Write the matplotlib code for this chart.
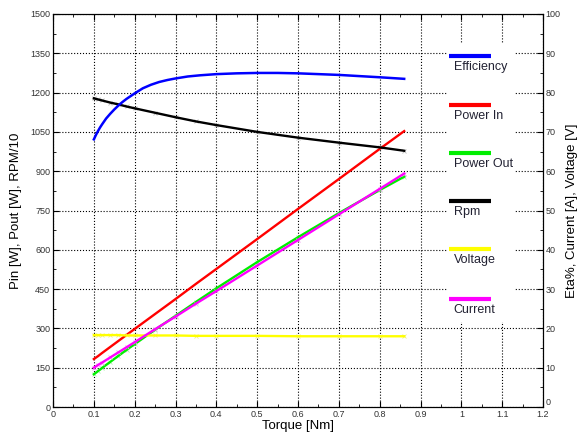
import matplotlib
matplotlib.use("Agg")
import matplotlib.pyplot as plt
from matplotlib.ticker import MultipleLocator
from matplotlib.patches import Rectangle

plt.rcParams['font.family'] = ['Liberation Sans', 'DejaVu Sans']

# data
torque = [0.10, 0.11, 0.12, 0.14, 0.16, 0.18, 0.20, 0.25, 0.30, 0.35,
          0.40, 0.50, 0.60, 0.70, 0.80, 0.86]
# left axis: W and RPM/10
power_in = [183, 194, 206, 229, 252, 275, 298, 355, 412, 470,
            527, 641, 756, 870, 985, 1053]
power_out = [125, 137, 149, 172, 195, 218, 240, 295, 348, 401,
             453, 553, 648, 740, 828, 879]
rpm10 = [1178, 1174, 1170, 1162, 1155, 1147, 1140, 1123, 1106, 1090,
         1076, 1050, 1028, 1009, 991, 978]
# right axis: %, A, V
voltage = [18.3, 18.3, 18.3, 18.3, 18.3, 18.2, 18.2, 18.2, 18.2, 18.1,
           18.1, 18.1, 18.0, 18.0, 18.0, 18.0]
current = [10.0, 10.7, 11.3, 12.6, 13.9, 15.2, 16.5, 19.8, 23.0, 26.3,
           29.5, 36.0, 42.5, 49.0, 55.5, 59.4]
# efficiency read more densely, it bends sharply at low torque
eff_torque = [0.10, 0.105, 0.11, 0.115, 0.12, 0.13, 0.14, 0.15, 0.16, 0.17,
              0.18, 0.19, 0.20, 0.22, 0.24, 0.26, 0.28, 0.30, 0.33, 0.36,
              0.40, 0.45, 0.50, 0.55, 0.60, 0.70, 0.80, 0.86]
efficiency = [68.1, 69.2, 70.2, 71.1, 71.9, 73.4, 74.6, 75.7, 76.7, 77.6,
              78.4, 79.1, 79.8, 81.1, 82.0, 82.7, 83.2, 83.6, 84.1, 84.4,
              84.7, 84.9, 85.0, 85.0, 84.9, 84.5, 83.9, 83.5]

x_ticks = [0, 0.1, 0.2, 0.3, 0.4, 0.5, 0.6, 0.7, 0.8, 0.9, 1, 1.1, 1.2]
x_labels = ['0', '0.1', '0.2', '0.3', '0.4', '0.5', '0.6', '0.7',
            '0.8', '0.9', '1', '1.1', '1.2']
right_ticks = [0, 10, 20, 30, 40, 50, 60, 70, 80, 90, 100]

legend_names = ['Efficiency', 'Power In', 'Power Out', 'Rpm', 'Voltage', 'Current']
legend_colors = ['#0000ff', '#ff0000', '#00ee00', '#000000', '#ffff00', '#ff00ff']

fig = plt.figure(figsize=(5.77, 4.36), dpi=100)
ax = fig.add_axes([0.0919, 0.0665, 0.8492, 0.9014])
ax2 = ax.twinx()

# faint measurement markers
ax.plot(torque, rpm10, 'x', color='0.75', ms=3, mew=0.6, zorder=2)
ax.plot(torque, power_out, 'x', color='#b0f0b0', ms=3, mew=0.6, zorder=2)
ax2.plot(torque, voltage, 'x', color='#f0f080', ms=3, mew=0.6, zorder=2)
ax2.plot(torque, current, 'x', color='#f0a0f0', ms=3, mew=0.6, zorder=2)

ax.plot(torque, power_in, color='#ff0000', lw=1.7, zorder=3)
ax.plot(torque, power_out, color='#00ee00', lw=1.7, zorder=3)
ax.plot(torque, rpm10, color='#000000', lw=1.7, zorder=3)
ax2.plot(eff_torque, efficiency, color='#0000ff', lw=1.8, zorder=3)
ax2.plot(torque, voltage, color='#ffff00', lw=1.7, zorder=3)
ax2.plot(torque, current, color='#ff00ff', lw=1.7, zorder=4)

ax.set_xlim(0, 1.2)
ax.set_ylim(0, 1500)
ax2.set_ylim(0, 100)

ax.set_xticks(x_ticks)
ax.set_xticklabels(x_labels)
ax.xaxis.set_minor_locator(MultipleLocator(0.05))
ax.yaxis.set_major_locator(MultipleLocator(150))
ax.yaxis.set_minor_locator(MultipleLocator(75))
ax2.set_yticks(right_ticks)
ax2.yaxis.set_minor_locator(MultipleLocator(5))

ax.grid(True, which='major', linestyle=':', color='k', linewidth=0.8)
ax.tick_params(which='both', direction='in', top=True, labelsize=6.5,
               labelcolor='#333333', pad=2)
ax.tick_params(which='major', length=4)
ax.tick_params(which='minor', length=2.5)
ax.tick_params(axis='y', right=False)
ax2.tick_params(which='both', direction='in', labelsize=6.5,
                labelcolor='#333333', pad=2)
ax2.tick_params(which='major', length=4)
ax2.tick_params(which='minor', length=2.5)
# lift the right-hand "0" a little so it clears the "1.2" below it
ax2.yaxis.get_major_ticks()[0].label2.set_verticalalignment('bottom')

ax.set_xlabel('Torque [Nm]', fontsize=9.5, labelpad=1)
ax.set_ylabel('Pin [W], Pout [W], RPM/10', fontsize=9.5, labelpad=6)
ax2.set_ylabel('Eta%, Current [A], Voltage [V]', fontsize=9.5, labelpad=4)

# hand-made legend box
ax2.add_patch(Rectangle((0.804, 0.216), 0.139, 0.71, transform=ax2.transAxes,
                        facecolor='white', edgecolor='none', zorder=5))
line_y = [0.893, 0.768, 0.646, 0.524, 0.402, 0.275]
for name, col, ly in zip(legend_names, legend_colors, line_y):
    ax2.plot([0.808, 0.894], [ly, ly], color=col, lw=3,
             transform=ax2.transAxes, zorder=6, solid_capstyle='butt')
    ax2.text(0.818, ly - 0.028, name, transform=ax2.transAxes, fontsize=9,
             color='#222233', va='center', ha='left', zorder=6)

fig.savefig('out.png', dpi=100)
